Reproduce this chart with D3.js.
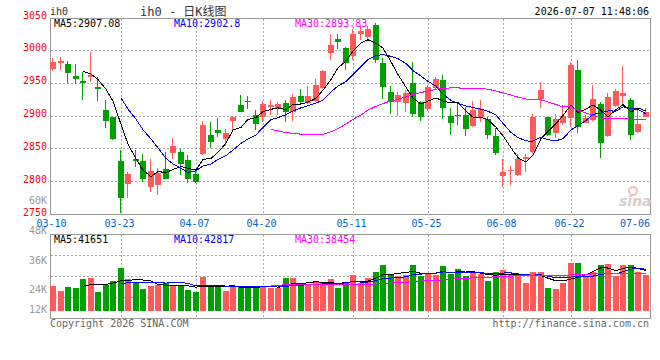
<!DOCTYPE html>
<html>
<head>
<meta charset="utf-8">
<script src="https://cdn.jsdelivr.net/npm/d3@7"></script>
<style>
  body { margin: 0; background: #fff; }
  svg text { font-family: "DejaVu Sans Mono", "Noto Sans CJK SC", monospace; font-size: 10px; }
</style>
</head>
<body>
<svg id="chart" width="660" height="360"></svg>
<script>
// fechas de cada vela (dias de mercado)
var dates = ["03-10","03-11","03-12","03-13","03-16","03-17","03-18","03-19","03-20",
  "03-23","03-24","03-25","03-26","03-27","03-30","03-31","04-01","04-02","04-03",
  "04-07","04-08","04-09","04-10","04-13","04-14","04-15","04-16","04-17",
  "04-20","04-21","04-22","04-23","04-24","04-27","04-28","04-29","04-30",
  "05-06","05-07","05-08","05-11","05-12","05-13","05-14","05-15",
  "05-18","05-19","05-20","05-21","05-22","05-25","05-26","05-27","05-28","05-29",
  "06-01","06-02","06-03","06-04","06-05","06-08","06-09","06-10","06-11","06-12",
  "06-15","06-16","06-17","06-18","06-22","06-23","06-24","06-25","06-26",
  "06-29","06-30","07-01","07-02","07-06","07-07"];

var opens = [2971,2979.5,2978,2960,2953,2958,2943,2908,2897,2831,
  2795,2833,2831,2791,2794,2818.5,2843,2845,2832,2811,
  2841,2870,2878,2864,2892,2916,2922.5,2901,2898,2912.5,
  2911,2918.5,2906,2930,2918.5,2922.5,2941.5,2995,3016.5,3003,
  2990,3024,3019,3038,2980,2936,2921,2918.5,2950,2921,
  2909.5,2942.5,2954,2899,2901,2901,2884,2898,2894,2869,
  2808,2815.5,2809.5,2833,2845,2925,2897,2873,2888,2896,
  2969,2889,2893,2917.5,2869,2915,2929.7,2923.5,2875.4,2898];

var highs = [2987,2989,2983,2978,2966,2997,2959,2924,2898,2848,
  2814,2848,2842,2833,2820,2844,2866,2848.5,2840,2818,
  2892,2890,2896,2879.5,2898.5,2931,2930,2908,2922.5,2923.5,
  2921,2923.5,2933,2941,2945,2955,2970,3024,3024,3004,
  3031,3036,3036,3040.5,2987,2945,2936,2939,2982,2922,
  2946,2959,2961,2911,2918.5,2913,2922.5,2923.5,2898,2880.5,
  2833,2823,2842,2841.5,2902,2951.5,2898,2902,2916,2982,
  2984.5,2901,2946.4,2921,2934.7,2940,2975.4,2926,2911,2911];

var lows = [2968,2969,2950,2948,2924,2951.5,2922,2881,2862,2751,
  2774,2822,2798,2784,2779,2803,2834,2809,2797,2797,
  2840,2851,2868,2854,2878,2905,2909.5,2878,2890.5,2901,
  2901,2890.5,2892,2919.5,2918,2921,2940,2984.5,3002,2969,
  2984.5,3015,3016,2980,2925,2902,2899,2906,2897,2892,
  2907,2939,2894,2870,2885.5,2869,2883,2890.5,2864,2840,
  2791,2794,2808,2814.5,2843,2911,2869,2865,2885.5,2882,
  2873,2888,2892,2835,2867,2913,2916,2862,2874,2897];

var closes = [2981,2983,2965,2956,2950,2962,2940,2892,2864,2775,
  2810.5,2830,2804,2815.5,2813,2803,2854,2826,2803,2798,
  2885.5,2860,2873,2873,2898,2906,2920.5,2887,2917.5,2916,
  2917,2906,2927.7,2921,2930,2946.4,2968,3007.4,3011.5,2980.5,
  3024,3028.7,3032,2984.5,2944,2920.5,2931,2934.7,2903,2898,
  2943,2955.5,2911,2889,2899.5,2879.5,2908.4,2909.5,2870,2843,
  2814.4,2817,2834,2837,2897,2939,2870,2894.7,2899,2977,
  2883,2895.7,2924.7,2858.5,2927.7,2937.3,2934.7,2870,2887,2905.8];

var volumes = [25600,20500,24600,23600,32800,33800,19500,26700,30800,44100,
  32800,28700,22600,25600,26700,28700,26700,25600,21500,19500,
  34900,24600,26700,20500,24600,24600,24600,25600,25600,23600,
  23600,33800,33800,25600,27700,29700,28700,32800,23600,29700,
  36900,28700,33800,40000,47200,36900,35900,36900,47200,35900,
  37900,36900,46100,37900,43100,35900,39000,37900,30800,40000,
  42000,37900,35900,28700,40000,40000,23600,22600,28700,49200,
  49200,35900,40000,47200,48200,35900,47200,47200,40000,36900];

var priceTicks = [3050, 3000, 2950, 2900, 2850, 2800, 2750];
var volTicks = [60000, 48000, 36000, 24000, 12000];
var volTickText = ["60K", "48K", "36K", "24K", "12K"];
var dateTicks = ["03-10","03-23","04-07","04-20","05-11","05-25","06-08","06-22","07-06"];
var maPeriods = [5, 10, 30];
var maColors = ["#000000", "#0000ff", "#ff00ff"];
var priceLegend = ["MA5:2907.08", "MA10:2902.8", "MA30:2893.83"];
var volLegend = ["MA5:41651", "MA10:42817", "MA30:38454"];

var RED = "#ff5a5a", GREEN = "#00a000";

var svg = d3.select("#chart");

var x = d3.scaleBand().domain(dates).range([50, 650]).paddingInner(0.2).paddingOuter(0.1);
var yP = d3.scaleLinear().domain([2750, 3050]).range([214, 17]);
var yV = d3.scaleLinear().domain([0, 79000]).range([311, 234]);
// las etiquetas de volumen de sina no siguen la escala de las barras
var yVL = d3.scaleLinear().domain([12000, 60000]).range([323, 204]);

function px(d) { return Math.floor(x(d)); }

// media movil
function movingAvg(arr, n) {
  return arr.map(function(v, i) {
    if (i < n - 1) return null;
    return d3.mean(arr.slice(i - n + 1, i + 1));
  });
}

// cajas de los paneles
svg.append("rect").attr("x", 50.5).attr("y", 18.5).attr("width", 600).attr("height", 196)
  .attr("fill", "none").attr("stroke", "#999");
svg.append("rect").attr("x", 50.5).attr("y", 234.5).attr("width", 600).attr("height", 84)
  .attr("fill", "none").attr("stroke", "#999");

// rejilla horizontal del precio
svg.selectAll(".hgrid").data(priceTicks.slice(1, -1)).enter().append("line")
  .attr("x1", 51).attr("x2", 650)
  .attr("y1", function(d) { return Math.round(yP(d)) + 0.5; })
  .attr("y2", function(d) { return Math.round(yP(d)) + 0.5; })
  .attr("stroke", "#aaa").attr("stroke-dasharray", "2,2");

// rejilla horizontal del volumen (cuartos del panel)
svg.selectAll(".vgridh").data([1, 2, 3]).enter().append("line")
  .attr("x1", 51).attr("x2", 650)
  .attr("y1", function(d) { return 234.5 + d * 21; })
  .attr("y2", function(d) { return 234.5 + d * 21; })
  .attr("stroke", "#aaa").attr("stroke-dasharray", "2,2");

// rejilla vertical
var gridDates = dateTicks.slice(1, -1);
gridDates.forEach(function(d) {
  var gx = px(d) + 3.5;
  svg.append("line").attr("x1", gx).attr("x2", gx).attr("y1", 19).attr("y2", 214)
    .attr("stroke", "#aaa").attr("stroke-dasharray", "2,2");
  svg.append("line").attr("x1", gx).attr("x2", gx).attr("y1", 235).attr("y2", 318)
    .attr("stroke", "#aaa").attr("stroke-dasharray", "2,2");
});

// velas
var idx = d3.range(dates.length);
var candles = svg.append("g").attr("shape-rendering", "crispEdges");
idx.forEach(function(i) {
  var up = closes[i] >= opens[i];
  var col = up ? RED : GREEN;
  var bx = px(dates[i]);
  var top = Math.round(yP(Math.max(opens[i], closes[i])));
  var bot = Math.round(yP(Math.min(opens[i], closes[i])));
  candles.append("rect").attr("x", bx + 2).attr("width", 1)
    .attr("y", Math.round(yP(highs[i])))
    .attr("height", Math.max(1, Math.round(yP(lows[i])) - Math.round(yP(highs[i]))))
    .attr("fill", col);
  candles.append("rect").attr("x", bx).attr("width", 6)
    .attr("y", top).attr("height", Math.max(1, bot - top))
    .attr("fill", col);
});

// barras de volumen
svg.append("g").attr("shape-rendering", "crispEdges")
  .selectAll("rect").data(idx).enter().append("rect")
  .attr("x", function(i) { return px(dates[i]); })
  .attr("width", 6)
  .attr("y", function(i) { return Math.round(yV(volumes[i])); })
  .attr("height", function(i) { return 311 - Math.round(yV(volumes[i])); })
  .attr("fill", function(i) { return closes[i] >= opens[i] ? RED : GREEN; });

// lineas de medias moviles
maPeriods.forEach(function(n, k) {
  var ma = movingAvg(closes, n);
  var line = d3.line()
    .defined(function(i) { return ma[i] !== null; })
    .x(function(i) { return px(dates[i]) + 3; })
    .y(function(i) { return yP(ma[i]); });
  svg.append("path").attr("d", line(idx)).attr("fill", "none")
    .attr("stroke", maColors[k]).attr("stroke-width", 1).attr("shape-rendering", "crispEdges");

  var vma = movingAvg(volumes, n);
  var vline = d3.line()
    .defined(function(i) { return vma[i] !== null; })
    .x(function(i) { return px(dates[i]) + 3; })
    .y(function(i) { return yV(vma[i]); });
  svg.append("path").attr("d", vline(idx)).attr("fill", "none")
    .attr("stroke", maColors[k]).attr("stroke-width", 1).attr("shape-rendering", "crispEdges");
});

// etiquetas eje Y precio
svg.selectAll(".plab").data(priceTicks).enter().append("text")
  .attr("x", 47).attr("y", function(d) { return yP(d) + 1.5; })
  .attr("text-anchor", "end").attr("fill", "#ff0000")
  .text(function(d) { return d; });

// etiquetas eje Y volumen
svg.selectAll(".vlab").data(volTicks).enter().append("text")
  .attr("x", 47).attr("y", function(d) { return Math.min(yVL(d), 313); })
  .attr("text-anchor", "end").attr("fill", "#999")
  .text(function(d, i) { return volTickText[i]; });

// etiquetas de fechas
svg.selectAll(".dlab").data(dateTicks).enter().append("text")
  .attr("x", function(d) { return Math.min(px(d) + 1.5, 635); })
  .attr("y", 226.5).attr("text-anchor", "middle").attr("fill", "#0066cc")
  .text(function(d) { return d; });

// leyendas
var legX = [54, 174, 295];
priceLegend.forEach(function(t, k) {
  svg.append("text").attr("x", legX[k]).attr("y", 27).attr("fill", maColors[k]).text(t);
});
volLegend.forEach(function(t, k) {
  svg.append("text").attr("x", legX[k]).attr("y", 243).attr("fill", maColors[k]).text(t);
});

// textos de cabecera y pie
svg.append("text").attr("x", 50).attr("y", 15).attr("fill", "#333").text("ih0");
svg.append("text").attr("x", 140).attr("y", 15.5).attr("fill", "#333")
  .style("font-size", "12px").text("ih0 - 日K线图");
svg.append("text").attr("x", 649).attr("y", 15).attr("text-anchor", "end")
  .attr("fill", "#000").text("2026-07-07 11:48:06");
svg.append("text").attr("x", 50).attr("y", 327).attr("fill", "#666").text("Copyright 2026 SINA.COM");
svg.append("text").attr("x", 649).attr("y", 327).attr("text-anchor", "end")
  .attr("fill", "#666").text("http://finance.sina.com.cn");

// marca de agua
svg.append("circle").attr("cx", 633).attr("cy", 191).attr("r", 4)
  .attr("fill", "none").attr("stroke", "#f0c0c0").attr("stroke-width", 2);
svg.append("text").attr("x", 619).attr("y", 206).attr("fill", "#d8cccc")
  .style("font-family", "DejaVu Sans").style("font-size", "14px")
  .style("font-style", "italic").style("font-weight", "bold").text("sina");
</script>
</body>
</html>
